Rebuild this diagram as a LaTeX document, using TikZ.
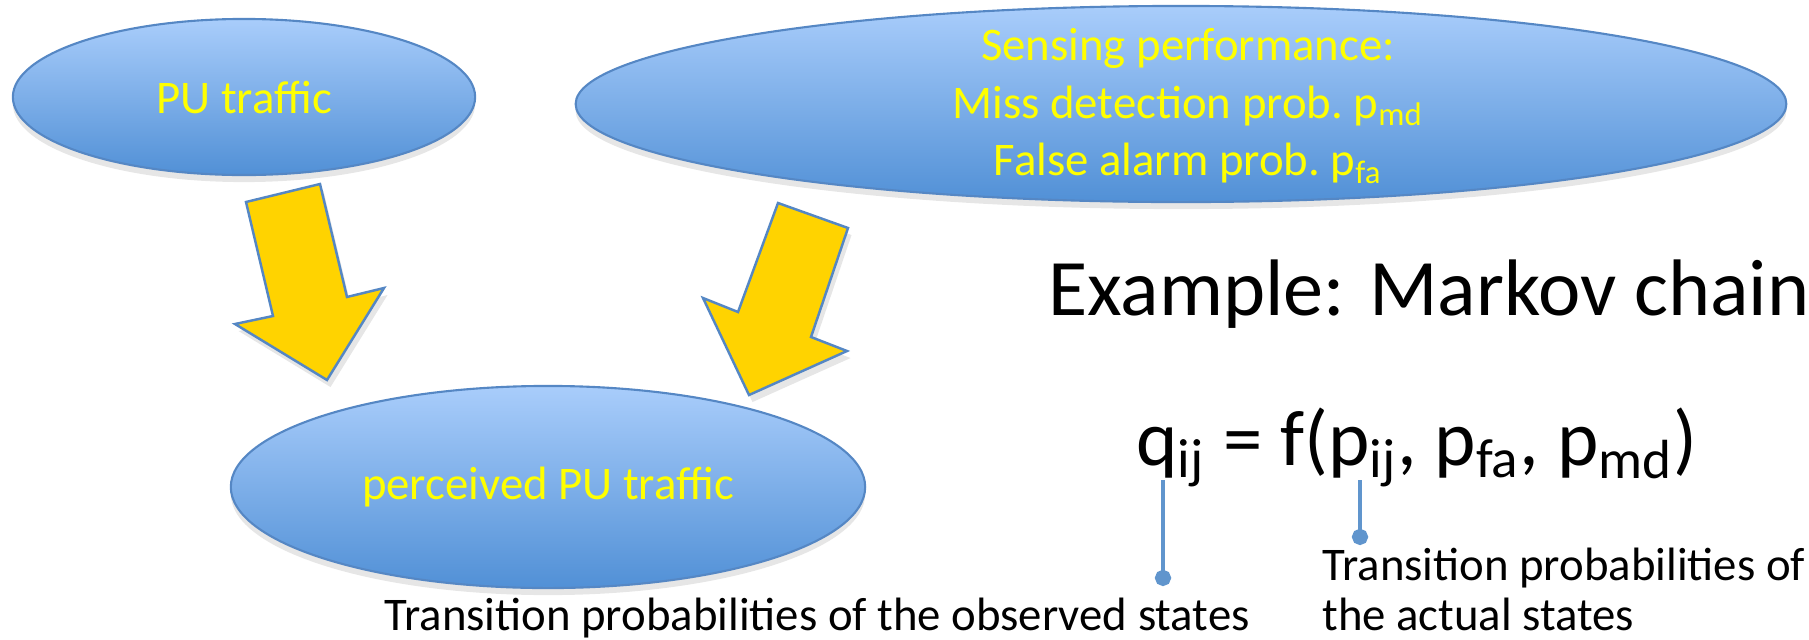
\documentclass[tikz,border=0pt]{standalone}
\usepackage{fontspec}
\setmainfont{Carlito}
\usetikzlibrary{shapes.geometric,shadows,arrows.meta}
\definecolor{bubbletop}{HTML}{A9CDFB}
\definecolor{bubblebottom}{HTML}{5190D6}
\definecolor{bubbleline}{HTML}{5587C4}
\definecolor{arrowgold}{HTML}{FFD300}
\definecolor{calloutblue}{HTML}{6095CD}
\definecolor{labelyellow}{HTML}{FFFF00}
\newcommand\bigsize{\fontsize{22.8}{27}\selectfont}
\newcommand\formulasize{\fontsize{22.4}{27}\selectfont}
\newcommand\smallsize{\fontsize{13.3}{14.2}\selectfont}
\newcommand\bubblesize{\fontsize{13.3}{16.3}\selectfont}

\begin{document}
\begin{tikzpicture}[x=.01cm,y=-.01cm,
  bubble/.style={ellipse,draw=bubbleline,line width=.6pt,top color=bubbletop,bottom color=bubblebottom,inner sep=0pt,
    font=\bubblesize,text=labelyellow,drop shadow={shadow xshift=0pt,shadow yshift=-2pt,opacity=.2}},
  blockarrow/.style={fill=arrowgold,draw=bubbleline,line width=.7pt,drop shadow={shadow xshift=1pt,shadow yshift=-2pt,opacity=.2}},
  callout/.style={draw=calloutblue,line width=1.4pt,-{Circle[length=4.6pt]}}]
\useasboundingbox (0,0) rectangle (1809,639);
% three ellipses
\node[bubble,minimum width=4.62cm,minimum height=1.56cm] (putraffic) at (244,97) {PU traffic};
\node[bubble,minimum width=12.1cm,minimum height=1.96cm] (sensing) at (1181,104) {};
\node[font=\bubblesize,text=labelyellow,align=center] (sensingtext) at (1188,106) {Sensing performance:\\Miss detection prob.\ p\textsubscript{md}\\False alarm prob.\ p\textsubscript{fa}};
\node[bubble,minimum width=6.34cm,minimum height=2.02cm] (perceived) at (548,487) {perceived PU traffic};
% block arrows
\path[blockarrow] (246,202)--(320,184)--(347,297)--(384,288)--(327,380)--(235,324)--(273,316)--cycle;
\path[blockarrow] (778,203)--(848,228)--(811,337)--(847,351)--(749,395)--(703,298)--(738,312)--cycle;
% right hand side
\node[anchor=base west,font=\bigsize] (example) at (1036,315) {Example: Markov chain};
\node[anchor=base west,font=\formulasize] (formula) at (1124,465) {q\textsubscript{ij} = f(p\textsubscript{ij}, p\textsubscript{fa}, p\textsubscript{md})};
\node[anchor=base west,font=\smallsize] (observed) at (372,630) {Transition probabilities of the observed states};
\node[anchor=base west,font=\smallsize,align=left] (actual) at (1310,630) {Transition probabilities of\\the actual states};
\coordinate (qsub) at (1163,480);
\coordinate (qdot) at (1163,586);
\coordinate (psub) at (1360,480);
\coordinate (pdot) at (1360,545);
\draw[callout] (qsub) -- (qdot);
\draw[callout] (psub) -- (pdot);
\end{tikzpicture}
\end{document}
